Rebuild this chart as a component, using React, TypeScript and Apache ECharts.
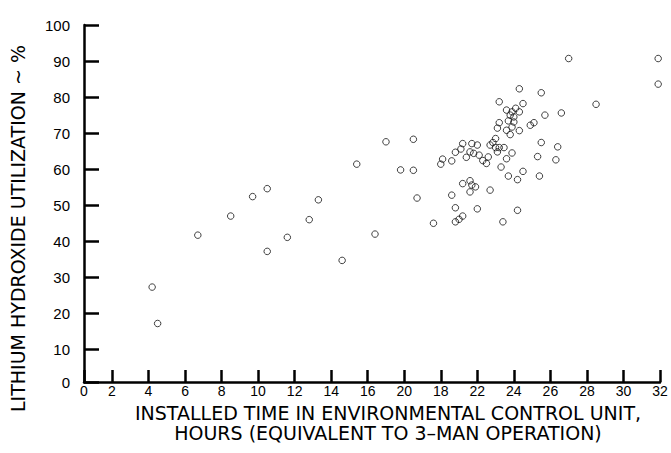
import React, { useEffect, useRef } from "react";
import * as echarts from "echarts";

// Installed time (hours, equivalent to 3-man operation)
const hoursInstalled: number[] = [
  4.2, 4.5, 6.7, 8.5, 9.7, 10.5, 10.5, 11.6, 12.8, 13.3,
  14.6, 15.4, 16.4, 17.0, 17.8, 18.5, 18.5, 18.7, 19.6, 20.6,
  20.8, 20.8, 21.0, 21.2, 20.0, 20.1, 20.6, 20.8, 21.2, 21.1,
  21.4, 21.6, 21.7, 21.8, 22.0, 22.1, 22.3, 22.5, 22.6, 22.7,
  22.85, 23.1, 23.0, 23.1, 23.3, 23.0, 23.2, 23.46, 23.9, 23.6,
  21.2, 21.6, 21.7, 21.9, 21.6, 22.7, 22.0, 24.3, 25.5, 23.2,
  24.5, 23.6, 23.9, 24.1, 24.3, 23.8, 24.0, 23.2, 23.7, 24.0,
  23.9, 23.6, 23.8, 24.3, 24.9, 25.1, 25.7, 26.6, 25.5, 26.4,
  25.3, 26.3, 23.7, 24.2, 25.4, 24.2, 23.4, 27.0, 31.9, 31.9,
  28.5, 24.5,
];

// Lithium hydroxide utilization (%)
const utilizationPct: number[] = [
  27.3, 17.2, 41.7, 47.0, 52.4, 54.6, 37.2, 41.1, 46.0, 51.5,
  34.7, 61.4, 42.0, 67.6, 59.8, 68.3, 59.7, 52.0, 45.0, 52.8,
  49.3, 45.4, 46.1, 47.0, 61.4, 62.8, 62.3, 64.7, 67.1, 65.6,
  63.3, 64.8, 67.1, 64.4, 66.7, 63.9, 62.4, 61.6, 63.4, 66.7,
  67.4, 71.4, 68.5, 64.8, 60.6, 66.0, 66.0, 66.0, 64.5, 62.9,
  56.0, 56.8, 55.6, 55.1, 53.7, 54.2, 49.0, 82.3, 81.2, 78.7,
  78.2, 76.4, 75.9, 76.9, 75.9, 75.0, 74.5, 72.9, 73.4, 73.1,
  71.7, 70.8, 69.6, 70.7, 72.2, 72.9, 75.0, 75.6, 67.4, 66.2,
  63.5, 62.6, 58.1, 57.1, 58.1, 48.6, 45.4, 90.7, 90.7, 83.6,
  78.0, 59.4,
];

// Tick labels as printed (note the printed "20" and "18" order)
const xTickValues: number[] = [2, 4, 6, 8, 10, 12, 14, 16, 18, 20, 22, 24, 26, 28, 30, 32];
const xTickTexts: string[] = ["2", "4", "6", "8", "10", "12", "14", "16", "20", "18", "22", "24", "26", "28", "30", "32"];
const yTickValues: number[] = [10, 20, 30, 40, 50, 60, 70, 80, 90, 100];
const yTickTexts: string[] = ["10", "20", "30", "40", "50", "60", "70", "80", "90", "100"];
const originText = "0";

const yTitle = "LITHIUM HYDROXIDE UTILIZATION ~ %";
const xTitle1 = "INSTALLED TIME IN ENVIRONMENTAL CONTROL UNIT,";
const xTitle2 = "HOURS (EQUIVALENT TO 3–MAN OPERATION)";

const FONT = "'Liberation Sans', Arial, Helvetica, sans-serif";
const TITLE_FONT = "'DejaVu Sans', 'Liberation Sans', Arial, sans-serif";

function pick(values: number[], texts: string[], v: number): string {
  for (let i = 0; i < values.length; i++) {
    if (Math.abs(values[i] - v) < 1e-6) return texts[i];
  }
  return originText;
}

export default function App() {
  const ref = useRef<HTMLDivElement>(null);

  useEffect(() => {
    if (!ref.current) return;
    const chart = echarts.init(ref.current, undefined, { renderer: "svg" });
    const data = hoursInstalled.map((h, i) => [h, utilizationPct[i]]);

    chart.setOption({
      animation: false,
      grid: { left: 84, right: 11, top: 25, bottom: 71 },
      xAxis: {
        type: "value",
        min: 0.47,
        max: 32,
        splitNumber: 16,
        splitLine: { show: false },
        name: xTitle1 + "\n" + xTitle2,
        nameLocation: "middle",
        nameGap: 10,
        nameTextStyle: {
          color: "#000",
          fontSize: 19,
          fontFamily: TITLE_FONT,
          lineHeight: 20,
          padding: [0, 0, 0, 32],
        },
        axisLine: { show: true, lineStyle: { color: "#000", width: 2.5 } },
        axisTick: {
          show: true,
          inside: true,
          length: 12,
          lineStyle: { color: "#000", width: 2.5 },
        },
        axisLabel: {
          formatter: (v: number) => pick(xTickValues, xTickTexts, v),
          color: "#000",
          fontSize: 14,
          fontFamily: FONT,
          margin: 2,
        },
      },
      yAxis: {
        type: "value",
        min: 0.97,
        max: 100,
        splitNumber: 10,
        splitLine: { show: false },
        name: yTitle,
        nameLocation: "middle",
        nameRotate: 90,
        nameGap: 57,
        nameTextStyle: {
          color: "#000",
          fontSize: 19,
          fontFamily: TITLE_FONT,
          padding: [0, 50, 0, 0],
        },
        axisLine: { show: true, lineStyle: { color: "#000", width: 2.5 } },
        axisTick: {
          show: true,
          inside: true,
          length: 15,
          lineStyle: { color: "#000", width: 2.5 },
        },
        axisLabel: {
          formatter: (v: number) => pick(yTickValues, yTickTexts, v),
          color: "#000",
          fontSize: 15,
          fontFamily: FONT,
          margin: 14,
        },
      },
      series: [
        {
          type: "scatter",
          data,
          symbol: "circle",
          symbolSize: 6.5,
          itemStyle: { color: "rgba(255,255,255,0)", borderColor: "#111", borderWidth: 1 },
        },
      ],
    });

    return () => chart.dispose();
  }, []);

  return (
    <div
      ref={ref}
      style={{ position: "absolute", left: 0, top: 0, width: 671, height: 453 }}
    />
  );
}
